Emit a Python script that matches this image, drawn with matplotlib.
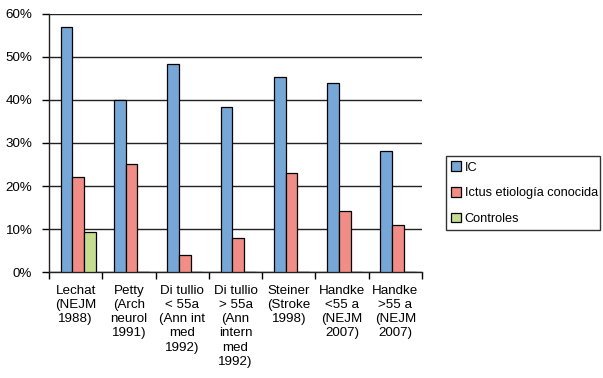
import numpy as np
import matplotlib
matplotlib.use("Agg")
import matplotlib.pyplot as plt

plt.rcParams['font.family'] = ['Liberation Sans', 'DejaVu Sans']

# data
categories = [
    "Lechat\n(NEJM\n1988)",
    "Petty\n(Arch\nneurol\n1991)",
    "Di tullio\n< 55a\n(Ann int\nmed\n1992)",
    "Di tullio\n> 55a\n(Ann\nintern\nmed\n1992)",
    "Steiner\n(Stroke\n1998)",
    "Handke\n<55 a\n(NEJM\n2007)",
    "Handke\n>55 a\n(NEJM\n2007)",
]
ic = [57.0, 40.0, 48.3, 38.3, 45.3, 44.0, 28.1]
ictus = [22.0, 25.0, 4.0, 8.0, 23.0, 14.2, 10.9]
controles = [9.3, 0, 0, 0, 0, 0, 0]

series_names = ["IC", "Ictus etiología conocida", "Controles"]
colors = ["#75a7d9", "#f38c84", "#c5de8e"]

fig = plt.figure(figsize=(6.03, 3.78), dpi=100)
ax = fig.add_axes([0.0813, 0.2804, 0.6185, 0.6826])

n = len(categories)
x = np.arange(n)
w = 0.22
handles = []
for i, (vals, c, name) in enumerate(zip([ic, ictus, controles], colors, series_names)):
    h = ax.bar(x + 0.22 + i * w, vals, width=w, align='edge', color=c,
               edgecolor='black', linewidth=0.9, label=name, zorder=3)
    handles.append(h)

ax.set_xlim(0, n)
ax.set_ylim(0, 60)
ax.set_yticks(np.arange(0, 61, 10))
ax.set_yticklabels([f"{v}%" for v in range(0, 61, 10)], fontsize=9.6)
ax.yaxis.grid(True, color='#222222', linewidth=1.0, zorder=0)
ax.set_axisbelow(True)

ax.set_xticks(x + 0.5)
ax.set_xticklabels(categories, fontsize=9.6, ha='center', multialignment='center',
                   linespacing=1.25)
ax.set_xticks(np.arange(0, n + 1), minor=True)
ax.tick_params(axis='x', which='major', length=0, pad=9)
ax.tick_params(axis='x', which='minor', length=5, width=1, direction='out')
ax.tick_params(axis='y', length=5, width=1, direction='out', pad=7)

for s in ['top', 'right']:
    ax.spines[s].set_visible(False)
for s in ['left', 'bottom']:
    ax.spines[s].set_linewidth(1.0)
    ax.spines[s].set_color('#222222')

leg = fig.legend(handles=handles, labels=series_names, loc='upper left',
                 bbox_to_anchor=(0.7396, 0.397, 0.256, 0.19), mode='expand',
                 fontsize=9.2, frameon=True,
                 fancybox=False, handlelength=0.8, handleheight=0.8,
                 handletextpad=0.25, labelspacing=1.05, borderaxespad=0,
                 borderpad=0.4)
leg.get_frame().set_edgecolor('black')
leg.get_frame().set_linewidth(1.0)

fig.savefig("out.png", dpi=100)
